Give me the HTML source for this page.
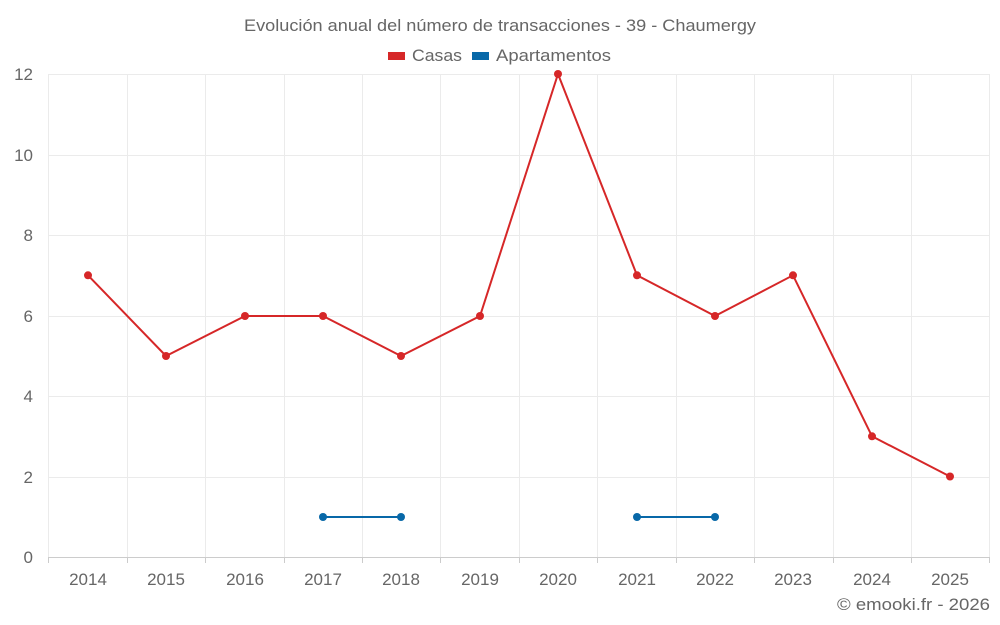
<!DOCTYPE html>
<html><head><meta charset="utf-8"><style>
body{margin:0;background:#fff;}
svg{display:block;font-family:"Liberation Sans",sans-serif;}
</style></head><body>
<svg width="1000" height="625" viewBox="0 0 1000 625">
<rect width="1000" height="625" fill="#fff"/>
<g stroke="#ebebeb" stroke-width="1">
<line x1="48" y1="74.5" x2="990" y2="74.5"/>
<line x1="48" y1="155.5" x2="990" y2="155.5"/>
<line x1="48" y1="235.5" x2="990" y2="235.5"/>
<line x1="48" y1="316.5" x2="990" y2="316.5"/>
<line x1="48" y1="396.5" x2="990" y2="396.5"/>
<line x1="48" y1="477.5" x2="990" y2="477.5"/>
<line x1="48.5" y1="74" x2="48.5" y2="557"/>
<line x1="127.5" y1="74" x2="127.5" y2="557"/>
<line x1="205.5" y1="74" x2="205.5" y2="557"/>
<line x1="284.5" y1="74" x2="284.5" y2="557"/>
<line x1="362.5" y1="74" x2="362.5" y2="557"/>
<line x1="440.5" y1="74" x2="440.5" y2="557"/>
<line x1="519.5" y1="74" x2="519.5" y2="557"/>
<line x1="597.5" y1="74" x2="597.5" y2="557"/>
<line x1="676.5" y1="74" x2="676.5" y2="557"/>
<line x1="754.5" y1="74" x2="754.5" y2="557"/>
<line x1="833.5" y1="74" x2="833.5" y2="557"/>
<line x1="911.5" y1="74" x2="911.5" y2="557"/>
<line x1="989.5" y1="74" x2="989.5" y2="557"/>
</g>
<line x1="48" y1="557.5" x2="990" y2="557.5" stroke="#ccc"/>
<g stroke="#ccc">
<line x1="48.5" y1="557" x2="48.5" y2="563"/><line x1="127.5" y1="557" x2="127.5" y2="563"/><line x1="205.5" y1="557" x2="205.5" y2="563"/><line x1="284.5" y1="557" x2="284.5" y2="563"/><line x1="362.5" y1="557" x2="362.5" y2="563"/><line x1="440.5" y1="557" x2="440.5" y2="563"/><line x1="519.5" y1="557" x2="519.5" y2="563"/><line x1="597.5" y1="557" x2="597.5" y2="563"/><line x1="676.5" y1="557" x2="676.5" y2="563"/><line x1="754.5" y1="557" x2="754.5" y2="563"/><line x1="833.5" y1="557" x2="833.5" y2="563"/><line x1="911.5" y1="557" x2="911.5" y2="563"/><line x1="989.5" y1="557" x2="989.5" y2="563"/>
</g>
<text x="244" y="31" font-size="17" fill="#666" textLength="512" lengthAdjust="spacingAndGlyphs">Evolución anual del número de transacciones - 39 - Chaumergy</text>
<rect x="388" y="52" width="17" height="8" fill="#d62728"/>
<text x="412" y="61" font-size="17" fill="#666" textLength="50" lengthAdjust="spacingAndGlyphs">Casas</text>
<rect x="472" y="52" width="17" height="8" fill="#0868a8"/>
<text x="496" y="61" font-size="17" fill="#666" textLength="115" lengthAdjust="spacingAndGlyphs">Apartamentos</text>
<g font-size="17" fill="#666" text-anchor="end">
<text x="33" y="80">12</text><text x="33" y="161">10</text><text x="33" y="241">8</text><text x="33" y="322">6</text><text x="33" y="402">4</text><text x="33" y="483">2</text><text x="33" y="563">0</text>
</g>
<g font-size="17" fill="#666" text-anchor="middle">
<text x="88" y="585">2014</text><text x="166" y="585">2015</text><text x="245" y="585">2016</text><text x="323" y="585">2017</text><text x="401" y="585">2018</text><text x="480" y="585">2019</text><text x="558" y="585">2020</text><text x="637" y="585">2021</text><text x="715" y="585">2022</text><text x="793" y="585">2023</text><text x="872" y="585">2024</text><text x="950" y="585">2025</text>
</g>
<text x="837" y="610" font-size="17" fill="#666" textLength="153" lengthAdjust="spacingAndGlyphs">© emooki.fr - 2026</text>
<polyline fill="none" stroke="#d62728" stroke-width="2" points="88,275.3 166,356 245,316 323,316 401,356 480,316 558,74 637,275.3 715,316 793,275.3 872,436.3 950,476.5"/>
<g fill="#d62728">
<circle cx="88" cy="275.3" r="4"/><circle cx="166" cy="356" r="4"/><circle cx="245" cy="316" r="4"/><circle cx="323" cy="316" r="4"/><circle cx="401" cy="356" r="4"/><circle cx="480" cy="316" r="4"/><circle cx="558" cy="74" r="4"/><circle cx="637" cy="275.3" r="4"/><circle cx="715" cy="316" r="4"/><circle cx="793" cy="275.3" r="4"/><circle cx="872" cy="436.3" r="4"/><circle cx="950" cy="476.5" r="4"/>
</g>
<g stroke="#0868a8" stroke-width="2"><line x1="323" y1="517" x2="401" y2="517"/><line x1="637" y1="517" x2="715" y2="517"/></g>
<g fill="#0868a8"><circle cx="323" cy="517" r="4"/><circle cx="401" cy="517" r="4"/><circle cx="637" cy="517" r="4"/><circle cx="715" cy="517" r="4"/></g>
</svg>
</body></html>
